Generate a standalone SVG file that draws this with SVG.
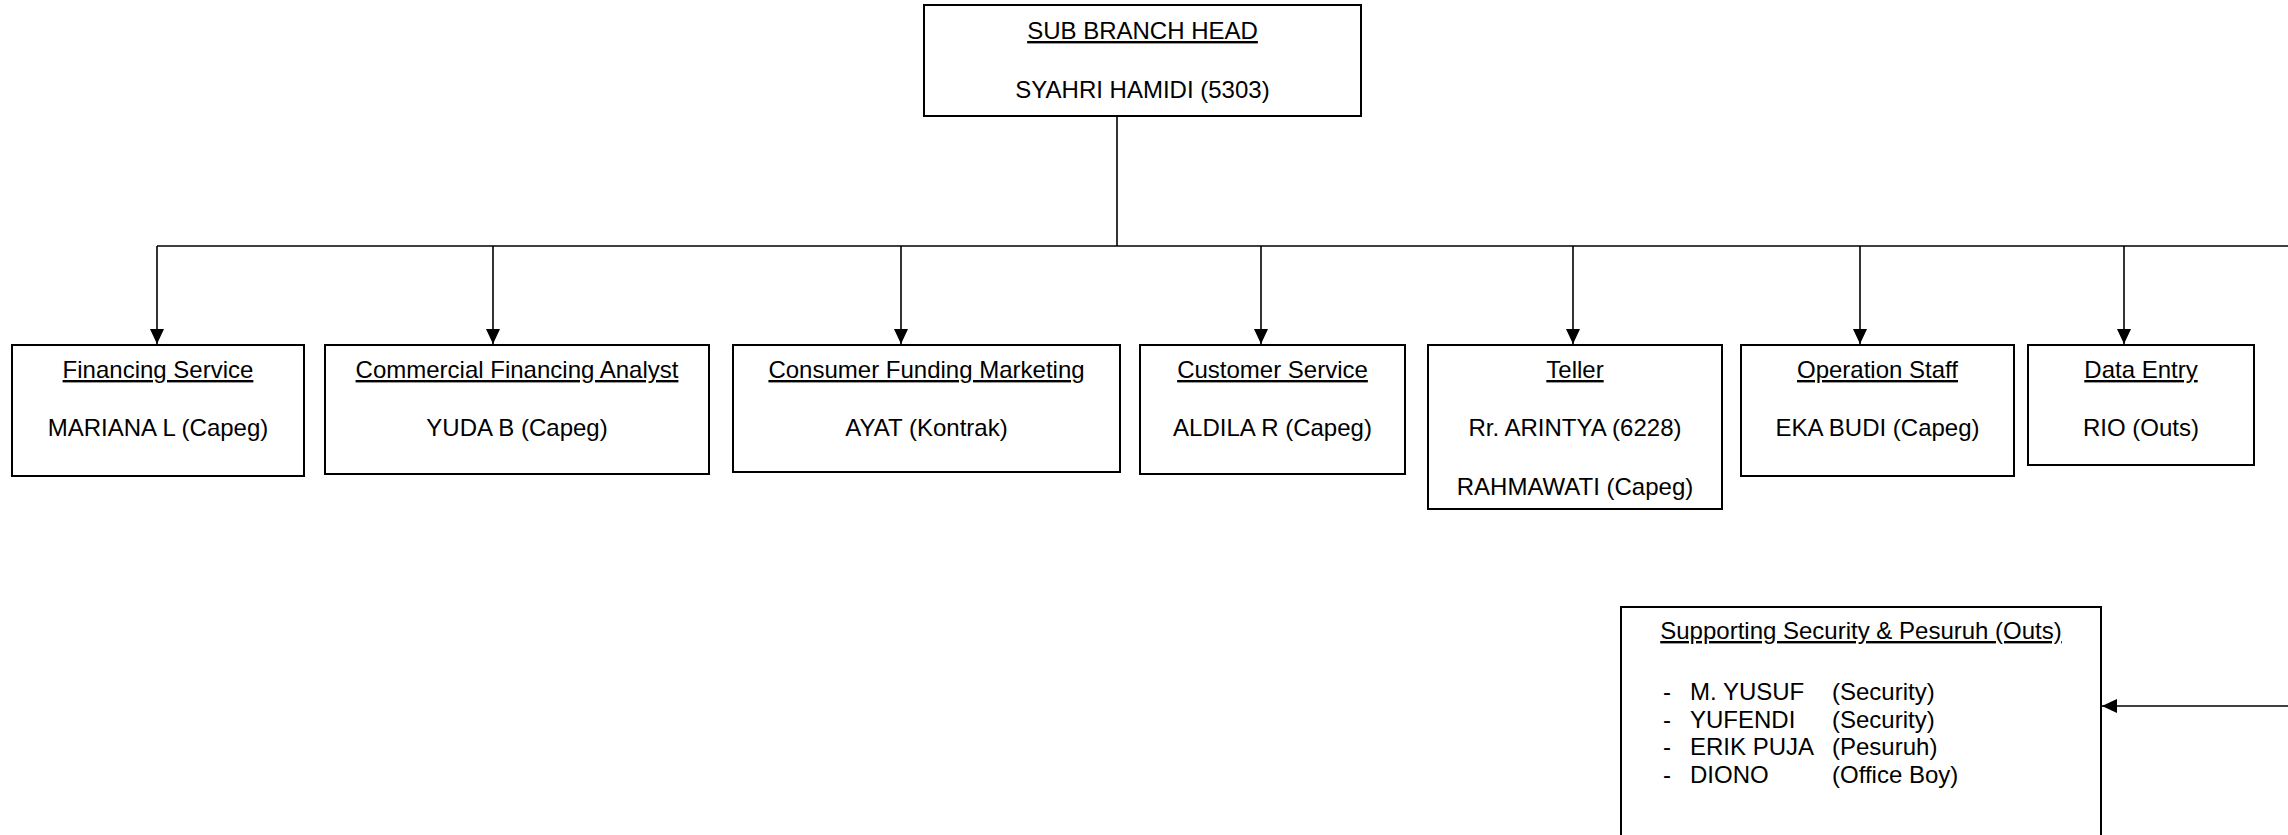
<svg xmlns="http://www.w3.org/2000/svg" width="2288" height="835" viewBox="0 0 2288 835">
<style>
.box{fill:#fff;stroke:#000;stroke-width:2}
.t{font-family:"Liberation Sans",Arial,sans-serif;font-size:24px;fill:#000}
.c{text-anchor:middle}
.u{text-decoration:underline}
.ln{fill:none;stroke:#000;stroke-width:1.6}
</style>
<defs>
<marker id="arr" markerUnits="userSpaceOnUse" markerWidth="15" markerHeight="14" refX="15" refY="7" orient="auto">
<path d="M0,0 L15,7 L0,14 z" fill="#000"/>
</marker>
</defs>
<rect width="2288" height="835" fill="#fff"/>
<g id="connectors">
<path class="ln" d="M1117,116 V246"/>
<path class="ln" d="M157,246 H2290"/>
<path class="ln" d="M157,246 V344" marker-end="url(#arr)"/>
<path class="ln" d="M493,246 V344" marker-end="url(#arr)"/>
<path class="ln" d="M901,246 V344" marker-end="url(#arr)"/>
<path class="ln" d="M1261,246 V344" marker-end="url(#arr)"/>
<path class="ln" d="M1573,246 V344" marker-end="url(#arr)"/>
<path class="ln" d="M1860,246 V344" marker-end="url(#arr)"/>
<path class="ln" d="M2124,246 V344" marker-end="url(#arr)"/>
<path class="ln" d="M2290,706 H2102" marker-end="url(#arr)"/>
</g>
<g id="head">
<rect class="box" x="924" y="5" width="437" height="111"/>
<text class="t c u" x="1142.5" y="39">SUB BRANCH HEAD</text>
<text class="t c" x="1142.5" y="98">SYAHRI HAMIDI (5303)</text>
</g>
<g id="financing-service">
<rect class="box" x="12" y="345" width="292" height="131"/>
<text class="t c u" x="158" y="378">Financing Service</text>
<text class="t c" x="158" y="436">MARIANA L (Capeg)</text>
</g>
<g id="commercial-financing-analyst">
<rect class="box" x="325" y="345" width="384" height="129"/>
<text class="t c u" x="517" y="378">Commercial Financing Analyst</text>
<text class="t c" x="517" y="436">YUDA B (Capeg)</text>
</g>
<g id="consumer-funding-marketing">
<rect class="box" x="733" y="345" width="387" height="127"/>
<text class="t c u" x="926.5" y="378">Consumer Funding Marketing</text>
<text class="t c" x="926.5" y="436">AYAT (Kontrak)</text>
</g>
<g id="customer-service">
<rect class="box" x="1140" y="345" width="265" height="129"/>
<text class="t c u" x="1272.5" y="378">Customer Service</text>
<text class="t c" x="1272.5" y="436">ALDILA R (Capeg)</text>
</g>
<g id="teller">
<rect class="box" x="1428" y="345" width="294" height="164"/>
<text class="t c u" x="1575" y="378">Teller</text>
<text class="t c" x="1575" y="436">Rr. ARINTYA (6228)</text>
<text class="t c" x="1575" y="495">RAHMAWATI (Capeg)</text>
</g>
<g id="operation-staff">
<rect class="box" x="1741" y="345" width="273" height="131"/>
<text class="t c u" x="1877.5" y="378">Operation Staff</text>
<text class="t c" x="1877.5" y="436">EKA BUDI (Capeg)</text>
</g>
<g id="data-entry">
<rect class="box" x="2028" y="345" width="226" height="120"/>
<text class="t c u" x="2141" y="378">Data Entry</text>
<text class="t c" x="2141" y="436">RIO (Outs)</text>
</g>
<g id="supporting-security">
<rect class="box" x="1621" y="607" width="480" height="240"/>
<text class="t c u" x="1861" y="639">Supporting Security &amp; Pesuruh (Outs)</text>
<text class="t" x="1663" y="700">-</text><text class="t" x="1690" y="700">M. YUSUF</text><text class="t" x="1832" y="700">(Security)</text>
<text class="t" x="1663" y="727.5">-</text><text class="t" x="1690" y="727.5">YUFENDI</text><text class="t" x="1832" y="727.5">(Security)</text>
<text class="t" x="1663" y="755">-</text><text class="t" x="1690" y="755">ERIK PUJA</text><text class="t" x="1832" y="755">(Pesuruh)</text>
<text class="t" x="1663" y="782.5">-</text><text class="t" x="1690" y="782.5">DIONO</text><text class="t" x="1832" y="782.5">(Office Boy)</text>
</g>
</svg>
